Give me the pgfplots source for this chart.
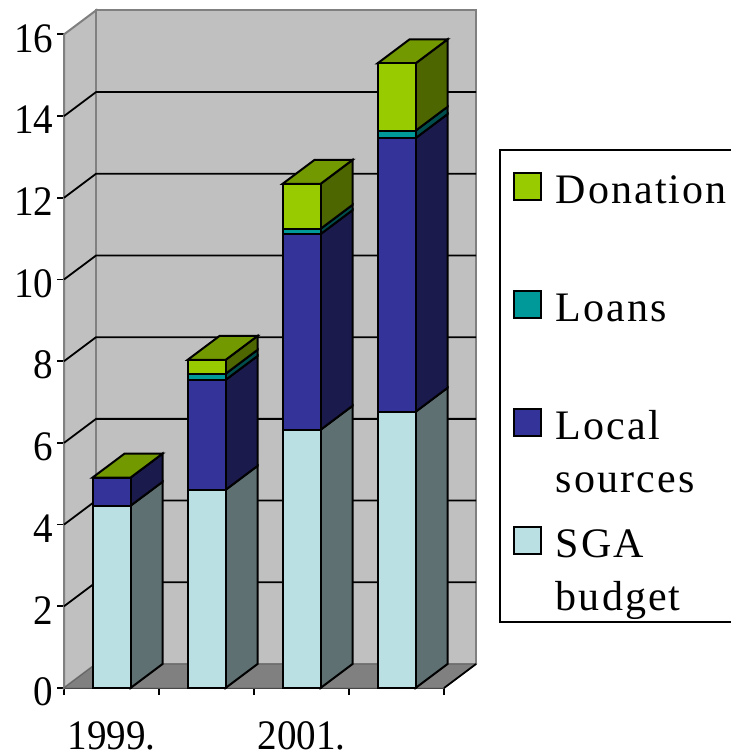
\documentclass[border=0pt]{standalone}
\usepackage{fontspec}
\setmainfont{Liberation Serif}
\newfontfamily\ticksf[FakeStretch=0.93]{Liberation Serif}
\newfontfamily\legf[LetterSpace=5]{Liberation Serif}
\usepackage{pgfplots}
\usepackage{pgfplotstable}
\pgfplotsset{compat=1.18}
\definecolor{wall}{HTML}{C0C0C0}
\definecolor{floorc}{HTML}{808080}
\definecolor{sgaF}{HTML}{BBE0E3}\definecolor{sgaS}{HTML}{5E7072}
\definecolor{locF}{HTML}{333399}\definecolor{locS}{HTML}{1A1A4D}
\definecolor{loaF}{HTML}{009999}\definecolor{loaS}{HTML}{004D4D}
\definecolor{donF}{HTML}{99CC00}\definecolor{donS}{HTML}{4D6600}\definecolor{donT}{HTML}{739900}
\pgfplotstableread{
x SGA Local Loans Donation
1 4.46 0.69 0.00 0.00
2 4.85 2.69 0.15 0.34
3 6.32 4.79 0.13 1.10
4 6.76 6.70 0.18 1.65
}\bars
\def\dX{0.337}\def\dY{0.5875}
\newcommand{\sideface}[4]{%
 \pgfmathsetmacro\xa{#1+0.2}\pgfmathsetmacro\xb{\xa+\dX}%
 \pgfmathsetmacro\ya{#2+\dY}\pgfmathsetmacro\yb{#3+\dY}%
 \edef\tmp{\noexpand\addplot[draw=black,line width=2pt,fill=#4,mark=none,forget plot] coordinates {(\xa,#2) (\xb,\ya) (\xb,\yb) (\xa,#3)} --cycle;}\tmp}
\newcommand{\topface}[2]{%
 \pgfmathsetmacro\xa{#1-0.2}\pgfmathsetmacro\xb{#1+0.2}%
 \pgfmathsetmacro\xc{\xa+\dX}\pgfmathsetmacro\xd{\xb+\dX}\pgfmathsetmacro\ya{#2+\dY}%
 \edef\tmp{\noexpand\addplot[draw=black,line width=2pt,fill=donT,mark=none,forget plot] coordinates {(\xa,#2) (\xc,\ya) (\xd,\ya) (\xb,#2)} --cycle;}\tmp}
\newcommand{\gridl}[1]{%
 \pgfmathsetmacro\ya{#1+\dY}%
 \edef\tmp{\noexpand\addplot[draw=black,line width=1.8pt,mark=none,forget plot] coordinates {(0.5,#1) (0.837,\ya) (4.837,\ya)};}\tmp}
\pgfplotsset{common/.style={
  scale only axis,width=380pt,height=653.6pt,
  at={(64pt,66pt)},anchor=south west,
  xmin=0.5,xmax=4.5,ymin=0,ymax=16,clip=false}}
\begin{document}
\begin{tikzpicture}[x=1pt,y=1pt]
\path[use as bounding box] (0,0) rectangle (730,754);
\begin{axis}[common,
  axis lines=left,axis line style={-,black,line width=2pt},
  xtick={0.5,1.5,2.5,3.5,4.5},xticklabels={},
  ytick={0,2,...,16},
  tick style={black,line width=1.8pt},major tick length=7pt,
  tick align=outside,
  extra x ticks={1,3},extra x tick labels={1999.,2001.},
  extra x tick style={major tick length=0pt,
    xticklabel style={inner sep=0pt,outer sep=0pt,text depth=0pt,yshift=-34pt}},
  /pgf/number format/assume math mode=true,
  tick label style={font=\ticksf\fontsize{42}{44}\selectfont},
  yticklabel style={xshift=0pt,yshift=-4pt},
]
\addplot[draw=floorc,line width=2pt,fill=wall,mark=none,forget plot] coordinates {(0.5,0) (0.837,0.5875) (0.837,16.5875) (0.5,16)} --cycle;
\addplot[draw=floorc,line width=2pt,fill=wall,mark=none,forget plot] coordinates {(0.837,0.5875) (4.837,0.5875) (4.837,16.5875) (0.837,16.5875)} --cycle;
\addplot[draw=floorc!80!black,line width=1pt,fill=floorc,mark=none,forget plot] coordinates {(0.5,0) (0.837,0.5875) (4.837,0.5875) (4.5,0)} --cycle;
\addplot[draw=black,line width=1.8pt,mark=none,forget plot] coordinates {(4.5,0) (4.837,0.5875)};
\gridl{2}\gridl{4}\gridl{6}\gridl{8}\gridl{10}\gridl{12}\gridl{14}
% bar 1
\sideface{1}{0}{4.46}{sgaS}\sideface{1}{4.46}{5.15}{locS}\topface{1}{5.15}
% bar 2
\sideface{2}{0}{4.85}{sgaS}\sideface{2}{4.85}{7.54}{locS}\sideface{2}{7.54}{7.69}{loaS}\sideface{2}{7.69}{8.03}{donS}\topface{2}{8.03}
% bar 3
\sideface{3}{0}{6.32}{sgaS}\sideface{3}{6.32}{11.11}{locS}\sideface{3}{11.11}{11.24}{loaS}\sideface{3}{11.24}{12.34}{donS}\topface{3}{12.34}
% bar 4
\sideface{4}{0}{6.76}{sgaS}\sideface{4}{6.76}{13.46}{locS}\sideface{4}{13.46}{13.64}{loaS}\sideface{4}{13.64}{15.29}{donS}\topface{4}{15.29}
\end{axis}
\begin{axis}[common,
  axis lines=none,
  ybar stacked,bar width=0.4,
  reverse legend,
  legend cell align=left,
  legend style={at={(1.147,0.823)},anchor=north west,draw=black,line width=2pt,
    font=\legf\fontsize{42}{53}\selectfont,inner sep=0pt,outer sep=0pt,
    row sep=0pt,
    cells={anchor=base west},
    nodes={inner sep=0pt,outer sep=0pt,text height=53pt,text depth=65pt},
  },
  every axis plot/.append style={line width=2pt,draw=black,
    /pgfplots/legend image code/.code={%
      \draw[##1,line width=2pt,draw=black] (14pt,3pt) rectangle (41pt,30pt);
      \path[draw=none,fill=none] (0pt,0pt) -- (56pt,0pt);}},
]
\addplot[fill=sgaF] table[x=x,y=SGA]{\bars};
\addplot[fill=locF] table[x=x,y=Local]{\bars};
\addplot[fill=loaF] table[x=x,y=Loans]{\bars};
\addplot[fill=donF] table[x=x,y=Donation]{\bars};
\legend{\parbox[t]{195pt}{SGA\\budget},
        \parbox[t]{195pt}{Local\\sources},
        \parbox[t]{195pt}{Loans},
        \parbox[t]{195pt}{Donation}}
\end{axis}
\end{tikzpicture}
\end{document}
